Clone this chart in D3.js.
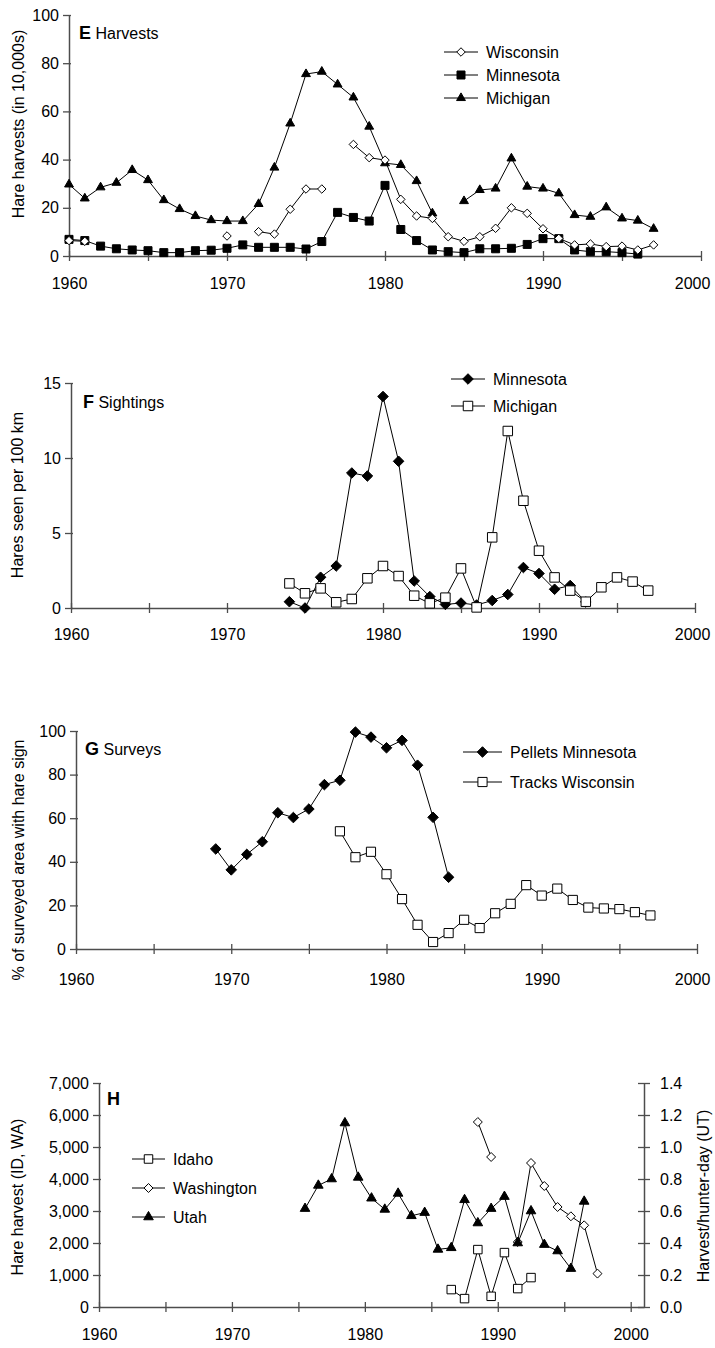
<!DOCTYPE html>
<html>
<head>
<meta charset="utf-8">
<script src="https://cdn.jsdelivr.net/npm/d3@7"></script>
<style>
  body { margin: 0; background: #fff; }
  svg text { font-family: "Liberation Sans", Arial, sans-serif; font-size: 16px; fill: #000; }
</style>
</head>
<body>
<div id="chart"></div>
<script>
// ---------- data ----------

// E: hare harvests, in 10,000s
const harvestYears = [1960, 1961, 1962, 1963, 1964, 1965, 1966, 1967, 1968, 1969,
  1970, 1971, 1972, 1973, 1974, 1975, 1976, 1977, 1978, 1979,
  1980, 1981, 1982, 1983, 1984, 1985, 1986, 1987, 1988, 1989,
  1990, 1991, 1992, 1993, 1994, 1995, 1996, 1997]
const harvestWisconsin = [6.4, 6.1, null, null, null, null, null, null, null, null,
  8.3, null, 10.1, 9.1, 19.4, 27.8, 27.8, null, 46.3, 40.8,
  39.8, 23.5, 16.6, 15.6, 8.0, 6.1, 8.0, 11.5, 20.0, 17.7,
  11.3, 7.3, 4.6, 5.0, 3.9, 4.1, 2.5, 4.6]
const harvestMinnesota = [6.9, 6.4, 4.1, 3.0, 2.5, 2.2, 1.4, 1.4, 2.2, 2.4,
  3.2, 4.6, 3.6, 3.6, 3.6, 2.9, 6.0, 18.1, 16.0, 14.5,
  29.3, 11.0, 6.4, 2.5, 1.8, 1.4, 3.0, 3.0, 3.2, 4.8,
  7.2, 7.2, 2.5, 1.8, 1.8, 1.4, 0.8, null]
const harvestMichigan = [29.7, 23.9, 28.5, 30.4, 35.7, 31.5, 23.2, 19.5, 16.6, 14.9,
  14.5, 14.5, 21.6, 36.7, 55.0, 75.5, 76.5, 71.2, 65.8, 53.7,
  38.5, 37.8, 31.1, 17.7, null, 22.8, 27.4, 28.0, 40.5, 28.8,
  28.0, 26.0, 17.0, 16.3, 20.2, 15.6, 14.7, 11.3]

// F: hares seen per 100 km
const sightYears = [1974, 1975, 1976, 1977, 1978, 1979, 1980, 1981, 1982, 1983,
  1984, 1985, 1986, 1987, 1988, 1989, 1990, 1991, 1992, 1993,
  1994, 1995, 1996, 1997]
const sightMinnesota = [0.42, 0.0, 2.05, 2.8, 9.0, 8.8, 14.1, 9.78, 1.8, 0.76,
  0.24, 0.33, 0.2, 0.5, 0.9, 2.7, 2.3, 1.25, 1.5, 0.4,
  null, null, null, null]
const sightMichigan = [1.64, 0.98, 1.31, 0.38, 0.6, 1.98, 2.8, 2.13, 0.82, 0.31,
  0.69, 2.64, 0.04, 4.71, 11.8, 7.15, 3.82, 2.04, 1.16, 0.42,
  1.38, 2.04, 1.76, 1.16]

// G: % of surveyed area with hare sign
const surveyYears = [1969, 1970, 1971, 1972, 1973, 1974, 1975, 1976, 1977, 1978,
  1979, 1980, 1981, 1982, 1983, 1984, 1985, 1986, 1987, 1988,
  1989, 1990, 1991, 1992, 1993, 1994, 1995, 1996, 1997]
const pelletsMinnesota = [45.9, 36.3, 43.4, 49.2, 62.5, 60.3, 64.2, 75.4, 77.4, 99.5,
  97.2, 92.3, 95.7, 84.3, 60.4, 32.9, null, null, null, null,
  null, null, null, null, null, null, null, null, null]
const tracksWisconsin = [null, null, null, null, null, null, null, null, 54.0, 42.1,
  44.6, 34.3, 22.9, 11.1, 3.2, 7.3, 13.4, 9.6, 16.4, 20.7,
  29.3, 24.5, 27.7, 22.5, 19.0, 18.6, 18.3, 16.9, 15.4]

// H: western states (seasons plotted mid-year)
const seasonYears = [1975.5, 1976.5, 1977.5, 1978.5, 1979.5, 1980.5, 1981.5, 1982.5, 1983.5, 1984.5,
  1985.5, 1986.5, 1987.5, 1988.5, 1989.5, 1990.5, 1991.5, 1992.5, 1993.5, 1994.5,
  1995.5, 1996.5, 1997.5]
const harvestIdaho = [null, null, null, null, null, null, null, null, null, null,
  null, 544, 262, 1794, 334, 1700, 575, 919, null, null,
  null, null, null]
const harvestWashington = [null, null, null, null, null, null, null, null, null, null,
  null, null, null, 5781, 4688, null, 2031, 4500, 3781, 3125,
  2834, 2553, 1044]
const utahPerHunterDay = [0.615, 0.76, 0.80, 1.15, 0.81, 0.68, 0.61, 0.71, 0.57, 0.59,
  0.36, 0.37, 0.67, 0.525, 0.615, 0.69, 0.40, 0.60, 0.39, 0.35,
  0.24, 0.66, null]

// ---------- drawing ----------
const width = 715
const height = 1348

const svg = d3.select('#chart').append('svg')
    .attr('width', width)
    .attr('height', height)

const axisColor = '#4d4d4d'

// rotated square, the way the spreadsheet draws diamonds
const diamond = {
  draw(ctx, size) {
    const h = Math.sqrt(size / 2)
    ctx.moveTo(0, -h); ctx.lineTo(h, 0); ctx.lineTo(0, h); ctx.lineTo(-h, 0); ctx.closePath()
  }
}

function marker(shape, size, filled) {
  const type = shape === 'square' ? d3.symbolSquare : shape === 'triangle' ? d3.symbolTriangle : diamond
  return {path: d3.symbol().type(type).size(size)(), fill: filled ? '#000' : '#fff'}
}

function styleAxis(sel) {
  sel.select('.domain').attr('stroke', axisColor).attr('stroke-width', 1.5)
  sel.selectAll('.tick line').attr('stroke', axisColor).attr('stroke-width', 1.3)
  sel.selectAll('.tick text').attr('fill', '#000').style('font-size', '16px')
      .style('font-family', '"Liberation Sans", Arial, sans-serif')
}

function drawPanel(p) {
  const g = svg.append('g')
  const x = d3.scaleLinear().domain(p.xDomain).range([p.left, p.right])
  const y = d3.scaleLinear().domain(p.yDomain).range([p.bottom, p.top])
  const y2 = p.y2Domain ? d3.scaleLinear().domain(p.y2Domain).range([p.bottom, p.top]) : null

  // x axis, ticks every 5 years crossing the line, labels every 10
  const xa = g.append('g')
      .attr('transform', `translate(0,${p.bottom})`)
      .call(d3.axisBottom(x)
          .tickValues(d3.range(1960, 2001, 5))
          .tickFormat(d => d % 10 === 0 ? d : '')
          .tickSize(5)
          .tickSizeOuter(0))
  xa.selectAll('.tick line').attr('y1', -5)
  xa.selectAll('.tick text').attr('y', p.xLabelY).attr('dy', null)
  styleAxis(xa)
  // keep the last label inside the picture, as the original does
  xa.selectAll('.tick text').each(function(d) {
    const b = this.getBBox()
    const over = x(d) + b.x + b.width - 710
    if (over > 0) d3.select(this).attr('x', -over)
  })

  // left y axis
  const ya = g.append('g')
      .attr('transform', `translate(${p.left},0)`)
      .call(d3.axisLeft(y)
          .tickValues(p.yTicks)
          .tickFormat(p.yFormat || (d => d))
          .tickSize(6)
          .tickSizeOuter(0))
  ya.selectAll('.tick line').attr('x1', 2)
  ya.selectAll('.tick text').attr('x', -10)
  styleAxis(ya)

  if (y2) {
    const ya2 = g.append('g')
        .attr('transform', `translate(${p.right},0)`)
        .call(d3.axisRight(y2)
            .tickValues(p.y2Ticks)
            .tickFormat(d3.format('.1f'))
            .tickSize(6)
            .tickSizeOuter(0))
    ya2.selectAll('.tick line').attr('x1', -6)
    ya2.selectAll('.tick text').attr('x', 16)
    styleAxis(ya2)
    g.append('text')
        .attr('transform', `translate(${p.y2TitleX},${p.y2TitleY}) rotate(-90)`)
        .attr('text-anchor', 'middle')
        .attr('dy', '0.35em')
        .text(p.y2Title)
  }

  // y axis title
  g.append('text')
      .attr('transform', `translate(${p.yTitleX},${p.yTitleY}) rotate(-90)`)
      .attr('text-anchor', 'middle')
      .attr('dy', '0.35em')
      .text(p.yTitle)

  // panel letter + name
  const t = g.append('text').attr('x', p.labelX).attr('y', p.labelY)
  t.append('tspan').attr('font-weight', 'bold').style('font-size', '18px').text(p.letter)
  if (p.name) t.append('tspan').text(' ' + p.name)

  // series
  p.series.forEach(s => {
    const sc = s.axis === 2 ? y2 : y
    const pts = p.years.map((yr, i) => ({yr, v: s.values[i]}))
    const line = d3.line()
        .defined(d => d.v != null)
        .x(d => x(d.yr))
        .y(d => sc(d.v))
    g.append('path')
        .datum(pts)
        .attr('fill', 'none')
        .attr('stroke', '#000')
        .attr('stroke-width', 1)
        .attr('d', line)
    const m = marker(s.shape, s.size, s.filled)
    g.selectAll(null)
        .data(pts.filter(d => d.v != null))
        .join('path')
        .attr('transform', d => `translate(${x(d.yr)},${sc(d.v)})`)
        .attr('d', m.path)
        .attr('fill', m.fill)
        .attr('stroke', '#000')
        .attr('stroke-width', 1)
  })

  // legend
  const lg = g.selectAll('.legend')
      .data(p.legend.order.map(i => p.series[i]))
      .join('g')
      .attr('transform', (d, i) => `translate(${p.legend.x},${p.legend.y + i * p.legend.step})`)
  lg.append('line')
      .attr('x1', 0).attr('x2', p.legend.len)
      .attr('stroke', '#000')
  lg.append('path')
      .attr('transform', `translate(${p.legend.len / 2},0)`)
      .attr('d', d => marker(d.shape, d.size, d.filled).path)
      .attr('fill', d => d.filled ? '#000' : '#fff')
      .attr('stroke', '#000')
  lg.append('text')
      .attr('x', p.legend.len + 8)
      .attr('dy', '0.35em')
      .text(d => d.name)
}

drawPanel({
  letter: 'E', name: 'Harvests', labelX: 79, labelY: 39,
  xDomain: [1960, 2000], left: 69, right: 701, top: 15, bottom: 256, xLabelY: 33,
  yDomain: [0, 100], yTicks: [0, 20, 40, 60, 80, 100],
  yTitle: 'Hare harvests (in 10,000s)', yTitleX: 18, yTitleY: 124,
  years: harvestYears,
  series: [
    {name: 'Minnesota', values: harvestMinnesota, shape: 'square', size: 64, filled: true},
    {name: 'Michigan', values: harvestMichigan, shape: 'triangle', size: 34, filled: true},
    {name: 'Wisconsin', values: harvestWisconsin, shape: 'diamond', size: 36, filled: false}
  ],
  legend: {x: 444, y: 52, step: 23, len: 34, order: [2, 0, 1]}
})

drawPanel({
  letter: 'F', name: 'Sightings', labelX: 83, labelY: 408,
  xDomain: [1960, 2000], left: 71, right: 695, top: 383, bottom: 608, xLabelY: 32,
  yDomain: [0, 15], yTicks: [0, 5, 10, 15],
  yTitle: 'Hares seen per 100 km', yTitleX: 17, yTitleY: 495,
  years: sightYears,
  series: [
    {name: 'Minnesota', values: sightMinnesota, shape: 'diamond', size: 56, filled: true},
    {name: 'Michigan', values: sightMichigan, shape: 'square', size: 90, filled: false}
  ],
  legend: {x: 451, y: 379, step: 27, len: 34, order: [0, 1]}
})

drawPanel({
  letter: 'G', name: 'Surveys', labelX: 85, labelY: 755,
  xDomain: [1960, 2000], left: 76, right: 697, top: 731, bottom: 949, xLabelY: 36,
  yDomain: [0, 100], yTicks: [0, 20, 40, 60, 80, 100],
  yTitle: '% of surveyed area with hare sign', yTitleX: 18, yTitleY: 860,
  years: surveyYears,
  series: [
    {name: 'Pellets Minnesota', values: pelletsMinnesota, shape: 'diamond', size: 56, filled: true},
    {name: 'Tracks Wisconsin', values: tracksWisconsin, shape: 'square', size: 84, filled: false}
  ],
  legend: {x: 463, y: 752, step: 30, len: 39, order: [0, 1]}
})

drawPanel({
  letter: 'H', name: '', labelX: 107, labelY: 1105,
  xDomain: [1960, 2001], left: 99, right: 644, top: 1083, bottom: 1307, xLabelY: 33,
  yDomain: [0, 7000], yTicks: [0, 1000, 2000, 3000, 4000, 5000, 6000, 7000],
  yFormat: d3.format(','),
  y2Domain: [0, 1.4], y2Ticks: [0, 0.2, 0.4, 0.6, 0.8, 1.0, 1.2, 1.4],
  y2Title: 'Harvest/hunter-day (UT)', y2TitleX: 703, y2TitleY: 1196,
  yTitle: 'Hare harvest (ID, WA)', yTitleX: 17, yTitleY: 1197,
  years: seasonYears,
  series: [
    {name: 'Idaho', values: harvestIdaho, shape: 'square', size: 72, filled: false},
    {name: 'Washington', values: harvestWashington, shape: 'diamond', size: 40, filled: false},
    {name: 'Utah', values: utahPerHunterDay, shape: 'triangle', size: 40, filled: true, axis: 2}
  ],
  legend: {x: 132, y: 1159, step: 29, len: 33, order: [0, 1, 2]}
})
</script>
</body>
</html>
